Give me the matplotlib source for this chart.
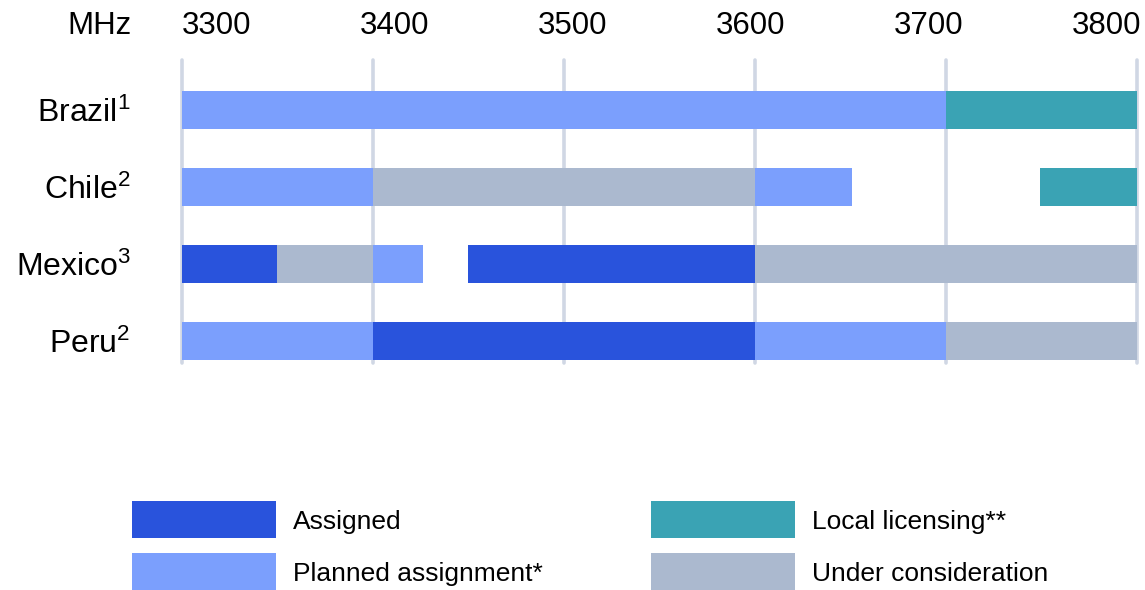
import matplotlib
matplotlib.use('Agg')
import matplotlib.pyplot as plt
from matplotlib.patches import Rectangle

plt.rcParams['font.family'] = ['Liberation Sans', 'DejaVu Sans']
plt.rcParams['mathtext.default'] = 'regular'

# data
countries = ['Brazil', 'Chile', 'Mexico', 'Peru']
notes = ['1', '2', '3', '2']
freq_ticks = [3300, 3400, 3500, 3600, 3700, 3800]

categories = ['Assigned', 'Planned assignment*', 'Local licensing**', 'Under consideration']
colors = ['#2953dc', '#7b9ffd', '#3aa3b4', '#abb9cf']

assigned = [('Mexico', 3300, 3350), ('Mexico', 3450, 3600), ('Peru', 3400, 3600)]
planned = [('Brazil', 3300, 3700), ('Chile', 3300, 3400), ('Chile', 3600, 3651),
           ('Mexico', 3400, 3426), ('Peru', 3300, 3400), ('Peru', 3600, 3700)]
local = [('Brazil', 3700, 3800), ('Chile', 3749, 3800)]
under = [('Chile', 3400, 3600), ('Mexico', 3350, 3400), ('Mexico', 3600, 3800),
         ('Peru', 3700, 3800)]
segments = [assigned, planned, local, under]

W, H = 1145, 590
fig = plt.figure(figsize=(W/100, H/100), dpi=100)

# main chart, placed in pixels
x0, x1, ytop, ybot = 182, 1137, 60, 363
ax = fig.add_axes([x0/W, (H-ybot)/H, (x1-x0)/W, (ybot-ytop)/H])
ax.set_xlim(3300, 3800)
row = 77.0  # px between rows
ax.set_ylim(3 + (ybot - 341)/row, -(110 - ytop)/row)

ymin, ymax = ax.get_ylim()
ax.vlines(freq_ticks, ymax, ymin, color='#d0d7e4', lw=2.6, capstyle='round',
          zorder=0, clip_on=False)

for segs, c in zip(segments, colors):
    for country, a, b in segs:
        ax.barh(countries.index(country), b - a, left=a, height=0.49, color=c,
                lw=0, zorder=2)

for s in ax.spines.values():
    s.set_visible(False)
ax.set_xticks([])
ax.set_yticks(range(len(countries)))
ax.set_yticklabels([f'{c}$^{{{n}}}$' for c, n in zip(countries, notes)], fontsize=23)
ax.tick_params(axis='y', length=0, pad=37)

# top frequency labels are spread evenly over the plot width (like the original)
fig.text(131/W, 1 - 26/H, 'MHz', fontsize=22.5, ha='right', va='center')
for i, t in enumerate(freq_ticks):
    fig.text((216.5 + 178*i)/W, 1 - 26/H, str(t), fontsize=22.5, ha='center', va='center')

# legend drawn in pixel space
lax = fig.add_axes([0, 0, 1, 1])
lax.set_xlim(0, W)
lax.set_ylim(H, 0)
lax.axis('off')
spots = [(132, 501), (132, 553), (651, 501), (651, 553)]
for (px, py), lab, c in zip(spots, categories, colors):
    lax.add_patch(Rectangle((px, py), 144, 37, color=c, lw=0))
    lax.text(px + 161, py + 21, lab, fontsize=19, va='center', ha='left')

fig.savefig('out.png', dpi=100)
